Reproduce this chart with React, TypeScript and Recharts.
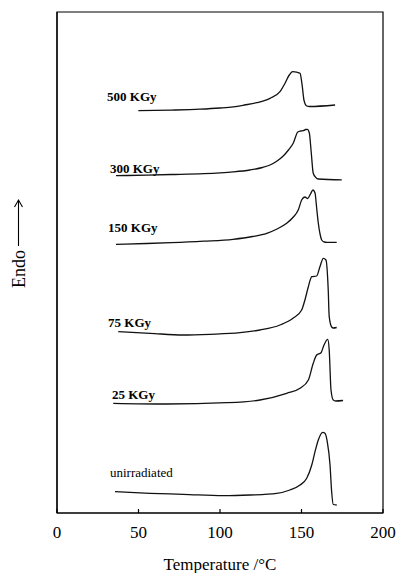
import React from 'react';
import { LineChart, Line, XAxis, YAxis, ReferenceArea, ReferenceDot } from 'recharts';

const FONT = "'Liberation Serif', 'Times New Roman', Times, serif";

const X_TICKS = [0, 50, 100, 150, 200];
const X_DOMAIN: [number, number] = [0, 200];
const Y_DOMAIN: [number, number] = [0, 501];

// Temperature (°C) and shifted heat-flow values for each DSC trace
const T_500 = [49.9, 70, 87.7, 100, 108.2, 115, 122.5, 130.7, 136.8, 139.9, 142.5, 144.6, 147, 149.1, 150.5, 151.5, 153.2, 155, 170.6];
const V_500 = [402.3, 402.9, 403.8, 405, 406.2, 408, 410.3, 414.7, 421.3, 429.7, 438, 441.3, 440.8, 439.7, 426.3, 413, 407, 406.5, 408];

const T_300 = [36.2, 55, 70, 90, 100, 108, 118.4, 126, 130.7, 135, 138.8, 142, 145, 147.7, 149.5, 151.1, 152.5, 153.6, 154.8, 156, 157.2, 158.7, 160.3, 174.7];
const V_300 = [337.3, 337.9, 338.5, 339.4, 340.2, 341.1, 343, 345.5, 348, 352, 357, 363, 370, 381, 382, 382.3, 383.5, 383.7, 380, 360, 339.7, 335.7, 334, 333.2];

const T_150 = [36.2, 55, 70, 90, 108, 120, 128.7, 135, 140.9, 145, 148, 150.1, 152.1, 153.8, 155.5, 157, 158.3, 159.3, 160.3, 161.5, 162.4, 164, 165.5, 171.6];
const V_150 = [268.7, 269.5, 270.3, 271.8, 273.7, 276.5, 279.7, 284, 289.7, 296, 303, 313, 316, 314.5, 319, 323, 320, 305, 290, 278, 273, 271, 270.7, 270.7];

const T_75 = [37.6, 57.1, 77.3, 93.9, 112.3, 124.5, 136.8, 144.8, 150.1, 152.1, 154.2, 156.3, 159.3, 161.3, 163.4, 165, 166.4, 167, 168.5, 169.5, 171.6];
const V_75 = [181.3, 179.7, 178, 178.7, 180.3, 183, 188, 194.7, 203, 213, 226.3, 236.3, 237, 246.3, 254.7, 253, 223, 196.3, 186, 185, 185.5];

const T_25 = [34.5, 67.3, 104.1, 124.5, 140.9, 149.1, 154.2, 157.2, 159.3, 162, 163.8, 166.1, 167, 168.1, 169.5, 171, 175.5];
const V_25 = [109.7, 109, 110.3, 113, 119.7, 124.7, 133, 149.7, 158, 160.3, 168, 173.7, 163, 123, 113, 112, 112.5];

const T_UN = [35.6, 57.1, 77.5, 102, 118.4, 134.8, 142.9, 149.1, 153.2, 156.3, 158.3, 160.3, 163, 164.4, 165.8, 167.5, 168.5, 169.5, 171.6];
const V_UN = [21.3, 19.7, 18.7, 17.3, 18, 19.7, 23, 28, 34.7, 48, 61.3, 73, 80.7, 79.7, 71.3, 48, 21.3, 8.5, 8];

const SERIES_NAMES = ['500 KGy', '300 KGy', '150 KGy', '75 KGy', '25 KGy', 'unirradiated'];
const SERIES_T = [T_500, T_300, T_150, T_75, T_25, T_UN];
const SERIES_V = [V_500, V_300, V_150, V_75, V_25, V_UN];

// label anchor (temperature, value) for each trace name
const LABEL_T = [30.7, 32.5, 31.3, 31.3, 33.7, 32.5];
const LABEL_V = [417, 345, 286, 191, 119, 41];

const series = SERIES_NAMES.map((name, i) => ({
  name,
  data: SERIES_T[i].map((t, j) => ({ t, v: SERIES_V[i][j] })),
  labelT: LABEL_T[i],
  labelV: LABEL_V[i],
}));

const EndoLabel = () => (
  <g>
    <text
      x={25}
      y={269}
      transform="rotate(-90 25 269)"
      textAnchor="middle"
      fill="#000"
      fontSize={18}
      fontFamily={FONT}
    >
      Endo
    </text>
    <line x1={18.5} y1={246} x2={18.5} y2={200} stroke="#000" strokeWidth={1.1} />
    <path d="M14.5,207 L18.5,200 L22.5,207" fill="none" stroke="#000" strokeWidth={1.1} />
  </g>
);

export default function App() {
  return (
    <div style={{ position: 'absolute', left: 0, top: 0, width: 398, height: 573, background: '#fff' }}>
      <LineChart width={398} height={573} margin={{ top: 12, right: 15, bottom: 0, left: 0 }}>
        <XAxis
          dataKey="t"
          type="number"
          domain={X_DOMAIN}
          ticks={X_TICKS}
          interval={0}
          allowDataOverflow
          height={60}
          tickSize={-4}
          tickMargin={17}
          axisLine={{ stroke: '#000', strokeWidth: 1.2 }}
          tickLine={{ stroke: '#000', strokeWidth: 1.2 }}
          tick={{ fill: '#000', fontSize: 17, fontFamily: FONT }}
          label={{ value: 'Temperature /°C', position: 'insideBottom', offset: 3, fill: '#000', fontSize: 17, fontFamily: FONT }}
        />
        <YAxis
          type="number"
          domain={Y_DOMAIN}
          allowDataOverflow
          width={57}
          tick={false}
          tickLine={false}
          axisLine={{ stroke: '#000', strokeWidth: 1.2 }}
          label={<EndoLabel />}
        />
        <ReferenceArea
          x1={X_DOMAIN[0]}
          x2={X_DOMAIN[1]}
          y1={Y_DOMAIN[0]}
          y2={Y_DOMAIN[1]}
          fill="none"
          fillOpacity={0}
          stroke="#000"
          strokeWidth={1.2}
        />
        {series.map((s) => (
          <Line
            key={s.name}
            data={s.data}
            dataKey="v"
            name={s.name}
            type="monotone"
            dot={false}
            activeDot={false}
            stroke="#111"
            strokeWidth={1.3}
            isAnimationActive={false}
          />
        ))}
        {series.map((s) => (
          <ReferenceDot
            key={'lbl-' + s.name}
            x={s.labelT}
            y={s.labelV}
            r={0}
            fill="none"
            stroke="none"
            label={{
              value: s.name,
              position: 'right',
              offset: 0,
              fill: '#000',
              fontSize: 13,
              fontWeight: s.name === 'unirradiated' ? 'normal' : 'bold',
              fontFamily: FONT,
            }}
          />
        ))}
      </LineChart>
    </div>
  );
}
